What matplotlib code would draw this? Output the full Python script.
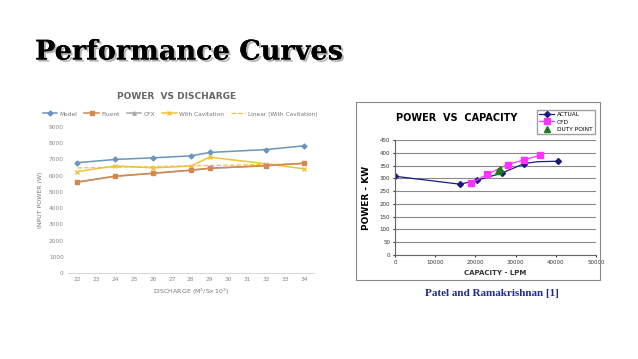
import matplotlib.pyplot as plt
import matplotlib.patheffects as pe
from matplotlib.patches import Rectangle
import numpy as np

# left chart: power vs discharge
discharge = [22, 24, 26, 28, 29, 32, 34]
model = [6800, 7000, 7100, 7220, 7430, 7610, 7840]
fluent = [5610, 5970, 6150, 6340, 6460, 6620, 6770]
cfx = [5600, 5960, 6140, 6330, 6450, 6610, 6760]
with_cav = [6250, 6600, 6480, 6590, 7140, 6730, 6420]
x_ticks = list(range(22, 35))
y_ticks = list(range(0, 9001, 1000))

# right chart: power vs capacity
act_cap = [0, 16200, 20500, 26500, 32200, 35500, 40500]
act_pow = [308, 277, 293, 320, 358, 365, 367]
act_marked = [0, 1, 2, 3, 4, 6]
cfd_cap = [19000, 23000, 28000, 32000, 36000]
cfd_pow = [282, 316, 354, 372, 390]
duty_cap = [25500, 26000]
duty_pow = [330, 336]

W, H = 638, 359
fig = plt.figure(figsize=(W / 100, H / 100), dpi=100)
fig.patch.set_facecolor("white")

def fx(px):
    return px / W

def fy(py):
    return 1 - py / H

# big heading
fig.text(fx(35), fy(52), "Performance Curves", fontsize=19.5, fontweight="bold",
         family="DejaVu Serif", va="center", ha="left", color="black",
         path_effects=[pe.withSimplePatchShadow(offset=(1.5, -1.5), shadow_rgbFace="gray", alpha=0.6),
                       pe.Normal()])

# ---------------- left chart ----------------
ax = fig.add_axes([fx(68), fy(273), fx(313.5 - 68), (273 - 127) / H])
c_model, c_fluent, c_cfx, c_cav = "#6a95bd", "#d3884d", "#a8a8a8", "#f2c23a"
ax.plot(discharge, model, color=c_model, marker="D", ms=2.5, lw=1.1, label="Model")
ax.plot(discharge, cfx, color=c_cfx, marker="^", ms=2.5, lw=1.1, label="CFX", zorder=2)
ax.plot(discharge, fluent, color=c_fluent, marker="s", ms=3, lw=1.1, label="Fluent", zorder=3)
ax.plot(discharge, with_cav, color=c_cav, marker="x", ms=3, lw=1.1, label="With Cavitation")
coef = np.polyfit(discharge, with_cav, 1)
xs = np.array([22, 34])
ax.plot(xs, np.polyval(coef, xs), color=c_cav, ls="--", lw=0.9, label="Linear (With Cavitation)")

ax.set_xlim(21.5, 34.5)
ax.set_ylim(0, 9000)
ax.set_xticks(x_ticks)
ax.set_yticks(y_ticks)
ax.tick_params(labelsize=4.2, colors="#888888", length=0, pad=3)
for s in ["top", "right", "left"]:
    ax.spines[s].set_visible(False)
ax.spines["bottom"].set_color("#d0d0d0")
ax.spines["bottom"].set_linewidth(0.6)
ax.set_ylabel("INPUT POWER (W)", fontsize=4.5, color="#777777", labelpad=4)
ax.set_xlabel("DISCHARGE (M$^3$/S×10$^3$)", fontsize=4.5, color="#777777", labelpad=3)
fig.text(fx(177), fy(97), "POWER  VS DISCHARGE", fontsize=6.5, fontweight="bold",
         color="#666666", ha="center", va="center")
h, l = ax.get_legend_handles_labels()
order = [0, 2, 1, 3, 4]
fig.legend([h[i] for i in order], [l[i] for i in order], loc="center",
           bbox_to_anchor=(fx(180), fy(114)), ncol=5, fontsize=4.2, frameon=False,
           handlelength=2.5, columnspacing=1.2, handletextpad=0.4, labelcolor="#777777")

# ---------------- right chart ----------------
fig.patches.append(Rectangle((fx(356), fy(280)), fx(600 - 356), (280 - 102) / H,
                             transform=fig.transFigure, fill=False, ec="#888888", lw=0.8))
ax2 = fig.add_axes([fx(395), fy(255), fx(596 - 395), (255 - 140) / H])
ax2.set_xlim(0, 50000)
ax2.set_ylim(0, 450)
ax2.set_xticks(range(0, 50001, 10000))
ax2.set_yticks(range(0, 451, 50))
ax2.grid(axis="y", color="#8a8a8a", lw=0.8)
ax2.set_axisbelow(True)
for s in ["top", "right"]:
    ax2.spines[s].set_visible(False)
ax2.spines["left"].set_color("#666666")
ax2.spines["bottom"].set_color("#666666")
ax2.tick_params(labelsize=4, colors="#333333", length=1.5, pad=2)
ax2.plot(act_cap, act_pow, color="#1a1a80", lw=0.9, label="ACTUAL", marker="D", ms=3,
         markevery=act_marked)
ax2.plot(cfd_cap, cfd_pow, color="#ff33ff", lw=0.9, marker="s", ms=4, label="CFD")
ax2.plot(duty_cap, duty_pow, color="#1f7a1f", lw=0, marker="^", ms=4, label="DUTY POINT")
ax2.set_ylabel("POWER - KW", fontsize=6.5, fontweight="bold", labelpad=6)
ax2.set_xlabel("CAPACITY - LPM", fontsize=5, fontweight="bold", labelpad=4, color="#333333")
fig.text(fx(457), fy(118), "POWER  VS  CAPACITY", fontsize=7, fontweight="bold",
         ha="center", va="center")
fig.legend(*ax2.get_legend_handles_labels(), loc="center",
           bbox_to_anchor=(fx(566), fy(122)), fontsize=4.2, frameon=True, fancybox=False,
           edgecolor="#888888", handlelength=2.5, borderpad=0.45, labelspacing=0.35,
           handletextpad=0.5)

fig.text(fx(492), fy(293), "Patel and Ramakrishnan [1]", fontsize=8, fontweight="bold",
         family="Liberation Serif", color="#1f2a8c", ha="center", va="center")

fig.savefig("out.png", dpi=100)
